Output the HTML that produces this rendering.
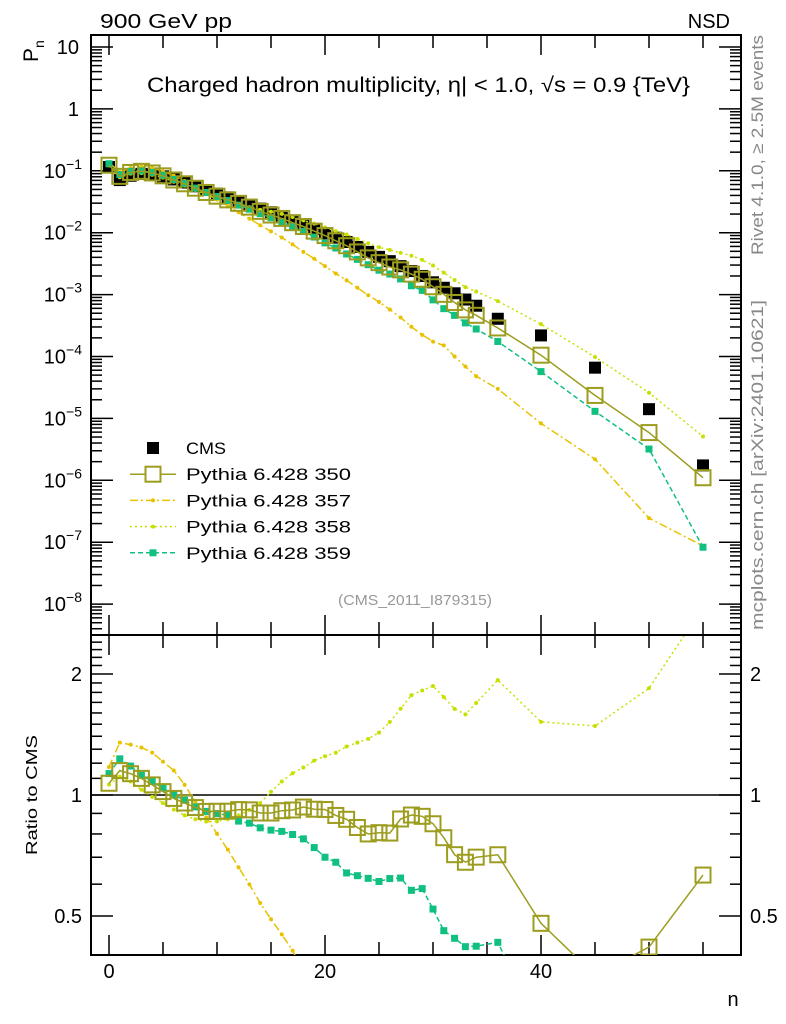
<!DOCTYPE html>
<html><head><meta charset="utf-8"><style>
html,body{margin:0;padding:0;background:#fff;width:786px;height:1024px;overflow:hidden;}
svg{display:block;font-family:"Liberation Sans",sans-serif;}
</style></head><body>
<svg id="chart" width="786" height="1024" viewBox="0 0 786 1024" xmlns="http://www.w3.org/2000/svg">
<defs>
<clipPath id="cm"><rect x="92" y="35" width="649" height="600"/></clipPath>
<clipPath id="cr"><rect x="92" y="636" width="649" height="319"/></clipPath>
</defs>
<text x="100" y="28" font-size="20" textLength="132" lengthAdjust="spacingAndGlyphs">900 GeV pp</text>
<text x="730" y="28" font-size="20" text-anchor="end">NSD</text>
<text transform="translate(38,62) rotate(-90)" font-size="21">P<tspan dy="6" font-size="14">n</tspan></text>
<text x="147" y="92" font-size="21" textLength="543" lengthAdjust="spacingAndGlyphs">Charged hadron multiplicity, η| &lt; 1.0, √s = 0.9 {TeV}</text>
<text transform="translate(763,255) rotate(-90)" font-size="17" fill="#888" textLength="220" lengthAdjust="spacingAndGlyphs">Rivet 4.1.0, ≥ 2.5M events</text>
<text transform="translate(763,630) rotate(-90)" font-size="17" fill="#888" textLength="330" lengthAdjust="spacingAndGlyphs">mcplots.cern.ch [arXiv:2401.10621]</text>
<text x="338" y="605" font-size="15" fill="#999" textLength="154" lengthAdjust="spacingAndGlyphs">(CMS_2011_I879315)</text>
<text transform="translate(37,855) rotate(-90)" font-size="16" textLength="120" lengthAdjust="spacingAndGlyphs">Ratio to CMS</text>
<text x="733" y="1006" font-size="20" text-anchor="middle">n</text>
<g id="axes"></g>
<g id="mainMarks" clip-path="url(#cm)"></g>
<g id="ratioMarks" clip-path="url(#cr)"></g>
<g id="legend"></g>
</svg>
<script>
const nVals=[0,1,2,3,4,5,6,7,8,9,10,11,12,13,14,15,16,17,18,19,20,21,22,23,24,25,26,27,28,29,30,31,32,33,34,36,40,45,50,55];
const cms=[0.115,0.0708,0.0832,0.0891,0.0871,0.0813,0.0724,0.0646,0.0562,0.0490,0.0427,0.0372,0.0324,0.0282,0.0245,0.0214,0.0186,0.0158,0.0135,0.0115,0.00977,0.00832,0.00708,0.00589,0.00490,0.00407,0.00347,0.00288,0.00240,0.00200,0.00158,0.00129,0.00105,0.000832,0.000661,0.000407,0.000219,6.6e-5,1.41e-5,1.74e-6];
const p350=[0.123,0.0814,0.0940,0.0980,0.0923,0.0829,0.0710,0.0617,0.0523,0.0446,0.0389,0.0339,0.0298,0.0259,0.0221,0.0193,0.0170,0.0145,0.0126,0.0106,0.00899,0.00740,0.00616,0.00489,0.00392,0.00328,0.00279,0.00251,0.00214,0.00177,0.00134,0.00101,0.000746,0.000566,0.000463,0.000289,1.05e-4,2.35e-5,5.9e-6,1.1e-6];
const p357=[0.135,0.0956,0.111,0.117,0.111,0.0984,0.0833,0.0685,0.0540,0.0431,0.0342,0.0272,0.0214,0.0169,0.0132,0.0105,0.00837,0.00648,0.00490,0.00380,0.00288,0.00219,0.00170,0.00129,0.000977,0.000759,0.000575,0.000427,0.000302,0.000224,0.000174,0.000151,0.0001,6.9e-5,4.8e-5,3.0e-5,8.3e-6,2.19e-6,2.45e-7,8.7e-8];
const p358=[0.122,0.0786,0.0899,0.0918,0.0862,0.0776,0.0666,0.0575,0.0489,0.0421,0.0367,0.0324,0.0288,0.0259,0.0234,0.0218,0.0201,0.0179,0.0158,0.0140,0.0122,0.0106,0.00935,0.00795,0.00676,0.00582,0.00527,0.00472,0.00425,0.00364,0.00295,0.00226,0.00172,0.00132,0.00112,0.000786,0.000333,9.8e-5,2.6e-5,5.1e-6];
const p359=[0.130,0.0871,0.0982,0.0998,0.0941,0.0846,0.0724,0.0627,0.0525,0.0446,0.0384,0.0331,0.0279,0.0240,0.0203,0.0175,0.0151,0.0126,0.0105,0.00851,0.00684,0.00566,0.00453,0.00371,0.00304,0.00248,0.00215,0.00179,0.00139,0.00117,0.000822,0.000593,0.000462,0.000349,0.000278,0.000175,5.7e-5,1.3e-5,3.2e-6,8.3e-8];
const xTicks=[0,20,40];
const yTickExp=[1,0,-1,-2,-3,-4,-5,-6,-7,-8];
const rTicks=[0.5,1,2];

const NS="http://www.w3.org/2000/svg";
const X=n=>109+10.8*n;
const Y=v=>47+(1-Math.log10(v))*61.9;
const R=r=>795-Math.log2(r)*121;
function mk(tag,attrs,parent){const e=document.createElementNS(NS,tag);for(const k in attrs)e.setAttribute(k,attrs[k]);parent.appendChild(e);return e;}
const axes=document.getElementById('axes'),gm=document.getElementById('mainMarks'),gr=document.getElementById('ratioMarks'),lg=document.getElementById('legend');

let f1=mk('rect',{x:91,y:35,width:650,height:600,fill:'none',stroke:'#000','stroke-width':2},axes);


let f2=mk('rect',{x:91,y:635,width:650,height:320,fill:'none',stroke:'#000','stroke-width':2},axes);


for(let n=0;n<=55;n+=5){const maj=n%20===0;const L=maj?20:13;const x=X(n);
 [[635,-1],[35,1],[955,-1],[635,1]].forEach(([y0,d])=>{let t=mk('line',{x1:x,x2:x,y1:y0,y2:y0+d*L,stroke:'#000','stroke-width':1.5},axes);});}
xTicks.forEach(n=>{let t=mk('text',{x:X(n),y:978,'font-size':20,'text-anchor':'middle'},axes);t.textContent=n;});
for(let e=-9;e<=1;e++){for(let m=1;m<=9;m++){const v=m*Math.pow(10,e);const y=Y(v);if(y<36||y>634)continue;const L=m===1?22:11;
 let a=mk('line',{x1:91,x2:91+L,y1:y,y2:y,stroke:'#000','stroke-width':1.5},axes);
 let b=mk('line',{x1:741,x2:741-L,y1:y,y2:y,stroke:'#000','stroke-width':1.5},axes);}}
yTickExp.forEach(e=>{let t=mk('text',{x:e<0?82:79,y:Y(Math.pow(10,e))+7,'font-size':20,'text-anchor':'end'},axes);
 if(e===1)t.textContent='10';else if(e===0)t.textContent='1';else{t.textContent='10';let s=mk('tspan',{dy:-9,'font-size':14},t);s.textContent='−'+(-e);}
 });
for(let k=4;k<=25;k++){const rr=k/10;const y=R(rr);if(y<636||y>954)continue;const L=(k===5||k===10||k===20)?22:11;
 let a=mk('line',{x1:91,x2:91+L,y1:y,y2:y,stroke:'#000','stroke-width':1.5},axes);
 let b=mk('line',{x1:741,x2:741-L,y1:y,y2:y,stroke:'#000','stroke-width':1.5},axes);}
rTicks.forEach(r=>{[[82,'end'],[750,'start']].forEach(([x,anc])=>{let t=mk('text',{x:x,y:R(r)+7,'font-size':20,'text-anchor':anc},axes);t.textContent=r;});});
let ref=mk('line',{x1:91,x2:741,y1:R(1),y2:R(1),stroke:'#000','stroke-width':1.5},gr);



const series=[
 {d:p357,name:'pythia-357',label:'Pythia 6.428 357',c:'#e8c200',dash:'8 3 2 3',m:'dot'},
 {d:p358,name:'pythia-358',label:'Pythia 6.428 358',c:'#c8e000',dash:'2 3',m:'dot'},
 {d:p359,name:'pythia-359',label:'Pythia 6.428 359',c:'#10c080',dash:'5 3',m:'fill'},
 {d:p350,name:'pythia-350',label:'Pythia 6.428 350',c:'#9c9c1e',dash:'',m:'open'}
];
function marker(m,x,y,c,g,name){let e;
 if(m==='open')e=mk('rect',{x:x-7.5,y:y-7.5,width:15,height:15,fill:'none',stroke:c,'stroke-width':2},g);
 else if(m==='fill')e=mk('rect',{x:x-3.5,y:y-3.5,width:7,height:7,fill:c},g);
 else e=mk('circle',{cx:x,cy:y,r:2,fill:c},g);
 }
nVals.forEach((n,i)=>{let e=mk('rect',{x:X(n)-6,y:Y(cms[i])-6,width:12,height:12,fill:'#000'},gm);});
series.forEach(s=>{
 const pm=nVals.map((n,i)=>X(n).toFixed(1)+','+Y(s.d[i]).toFixed(1)).join(' ');
 let l=mk('polyline',{points:pm,fill:'none',stroke:s.c,'stroke-width':1.5,'stroke-dasharray':s.dash},gm);
 
 nVals.forEach((n,i)=>marker(s.m,X(n),Y(s.d[i]),s.c,gm,s.name));
 const pr=nVals.map((n,i)=>X(n).toFixed(1)+','+R(s.d[i]/cms[i]).toFixed(1)).join(' ');
 let l2=mk('polyline',{points:pr,fill:'none',stroke:s.c,'stroke-width':1.5,'stroke-dasharray':s.dash},gr);
 
 nVals.forEach((n,i)=>marker(s.m,X(n),R(s.d[i]/cms[i]),s.c,gr,s.name+'-ratio'));
});
const leg=[{label:'CMS',m:'cms',c:'#000',dash:''}].concat([series[3],series[0],series[1],series[2]]);
leg.forEach((s,i)=>{const y=448+i*26.2;const g=mk('g',{},lg);
 
 if(s.m==='cms'){mk('rect',{x:147,y:y-6,width:12,height:12,fill:'#000'},g);}
 else{mk('line',{x1:130,x2:176,y1:y,y2:y,stroke:s.c,'stroke-width':1.5,'stroke-dasharray':s.dash},g);
  if(s.m==='open')mk('rect',{x:145.5,y:y-7.5,width:15,height:15,fill:'#fff',stroke:s.c,'stroke-width':2},g);
  else if(s.m==='fill')mk('rect',{x:149.5,y:y-3.5,width:7,height:7,fill:s.c},g);
  else mk('circle',{cx:153,cy:y,r:2,fill:s.c},g);}
 const attrs={x:186,y:y+6,'font-size':17,lengthAdjust:'spacingAndGlyphs'};
 attrs.textLength=s.m==='cms'?40:165;
 let t=mk('text',attrs,g);t.textContent=s.label;});
</script>
</body></html>
